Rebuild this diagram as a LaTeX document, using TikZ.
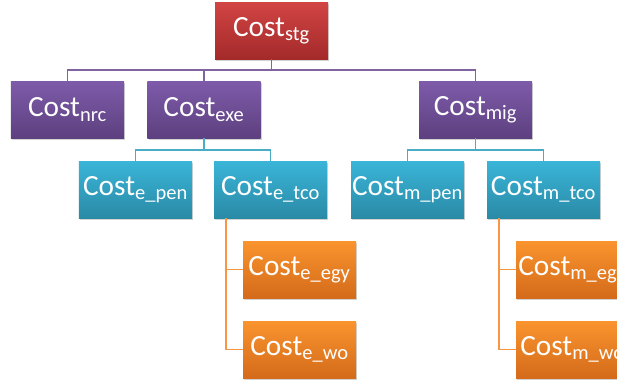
\documentclass[tikz,border=0pt]{standalone}
\usepackage{fontspec}
\setmainfont{Carlito}
\usetikzlibrary{shadows,positioning}
\definecolor{redtop}{HTML}{D24444}
\definecolor{redbot}{HTML}{A42A2A}
\definecolor{purtop}{HTML}{7E5BAA}
\definecolor{purbot}{HTML}{5D407F}
\definecolor{cyantop}{HTML}{3AB5D8}
\definecolor{cyanbot}{HTML}{2A8AA6}
\definecolor{orgtop}{HTML}{FA942E}
\definecolor{orgbot}{HTML}{D36B1A}
\definecolor{purline}{HTML}{8064A2}
\definecolor{cyanline}{HTML}{4BACC6}
\definecolor{orgline}{HTML}{F79646}
\newcommand{\cst}[1]{Cost\textsubscript{#1}}
\tikzset{
  costbox/.style={minimum width=3.39cm,minimum height=1.71cm,inner sep=0pt,text=white,
    font=\fontsize{25}{28}\selectfont,
    drop shadow={shadow xshift=1pt,shadow yshift=-1.5pt,opacity=.35}},
  lvlzero/.style={costbox,top color=redtop,bottom color=redbot},
  lvlone/.style={costbox,top color=purtop,bottom color=purbot},
  lvltwo/.style={costbox,top color=cyantop,bottom color=cyanbot},
  lvlthree/.style={costbox,top color=orgtop,bottom color=orgbot},
  link/.style={line width=1.6pt}
}
\begin{document}
\begin{tikzpicture}[x=.03cm,y=-.03cm]
\useasboundingbox (0,0) rectangle (617,383);
\clip (0,0) rectangle (617,383);
% nodes
\node[lvlzero] (stg) at (271.5,30.5) {\cst{stg}};
\node[lvlone] (nrc) at (67.5,109.5) {\cst{nrc}};
\node[lvlone] (exe) at (204,109.5) {\cst{exe}};
\node[lvlone] (mig) at (475.5,109.5) {\cst{mig}};
\node[lvltwo] (epen) at (135.5,189.5) {\cst{e\_pen}};
\node[lvltwo] (etco) at (270.5,189.5) {\cst{e\_tco}};
\node[lvltwo] (mpen) at (407.5,189.5) {\cst{m\_pen}};
\node[lvltwo] (mtco) at (543.5,189.5) {\cst{m\_tco}};
\node[lvlthree] (eegy) at (299.5,269.5) {\cst{e\_egy}};
\node[lvlthree] (ewo) at (299.5,349.5) {\cst{e\_wo}};
\node[lvlthree] (megy) at (572.5,269.5) {\cst{m\_egy}};
\node[lvlthree] (mwo) at (572.5,349.5) {\cst{m\_wo}};
% links
\foreach \c in {nrc,exe,mig}
  \draw[link,purline] (stg.south) -- ++(0,11) -| (\c.north);
\foreach \c in {epen,etco}
  \draw[link,cyanline] (exe.south) -- ++(0,12) -| (\c.north);
\foreach \c in {mpen,mtco}
  \draw[link,cyanline] (mig.south) -- ++(0,12) -| (\c.north);
\foreach \c in {eegy,ewo}
  \draw[link,orgline] ([xshift=.36cm]etco.south west) |- (\c.west);
\foreach \c in {megy,mwo}
  \draw[link,orgline] ([xshift=.36cm]mtco.south west) |- (\c.west);
\end{tikzpicture}
\end{document}
